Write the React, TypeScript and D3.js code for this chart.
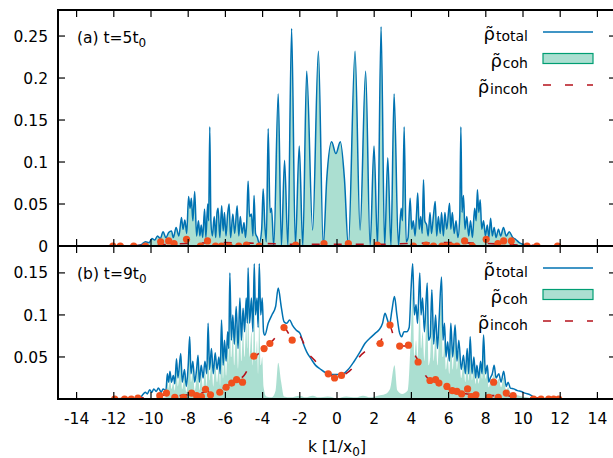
import React, { useEffect, useRef } from 'react';
import * as d3 from 'd3';

type Pt = [number, number];

// tick values
const xTicks = [-14, -12, -10, -8, -6, -4, -2, 0, 2, 4, 6, 8, 10, 12, 14];
const yTicksA = [0, 0.05, 0.1, 0.15, 0.2, 0.25];
const yTicksB = [0, 0.05, 0.1, 0.15];
const yLabelsB = [0.05, 0.1, 0.15];

// (a) t = 5 t0 : total density (k, rho)
const totalA: Pt[] = [
  [-10.8, 0], [-10.5, 0.002], [-10.3, 0.005], [-10.1, 0.004], [-9.95, 0.009], [-9.8, 0.007],
  [-9.65, 0.012], [-9.5, 0.009], [-9.35, 0.017], [-9.2, 0.01], [-9.05, 0.016], [-8.9, 0.018],
  [-8.8, 0.01], [-8.65, 0.022], [-8.5, 0.012], [-8.36, 0.034], [-8.28, 0.02], [-8.18, 0.031],
  [-8.08, 0.015], [-7.98, 0.059], [-7.9, 0.045], [-7.83, 0.057], [-7.75, 0.03], [-7.65, 0.065],
  [-7.55, 0.012], [-7.45, 0.03], [-7.37, 0.012], [-7.3, 0.025], [-7.22, 0.01], [-7.12, 0.044],
  [-7.05, 0.01], [-6.95, 0.05], [-6.9, 0.03], [-6.84, 0.142], [-6.78, 0.03], [-6.7, 0.012],
  [-6.6, 0.035], [-6.52, 0.01], [-6.45, 0.04], [-6.39, 0.045], [-6.3, 0.01], [-6.2, 0.048],
  [-6.12, 0.018], [-6.05, 0.04], [-5.97, 0.012], [-5.88, 0.038], [-5.8, 0.05], [-5.72, 0.01],
  [-5.6, 0.038], [-5.5, 0.015], [-5.37, 0.048], [-5.28, 0.012], [-5.2, 0.035], [-5.1, 0.015],
  [-5.0, 0.028], [-4.92, 0.01], [-4.85, 0.03], [-4.78, 0.077], [-4.7, 0.035], [-4.6, 0.038],
  [-4.52, 0.012], [-4.46, 0.06], [-4.38, 0.015], [-4.28, 0.01], [-4.18, 0.003], [-4.05, 0.02],
  [-3.97, 0.068], [-3.88, 0.025], [-3.8, 0.005], [-3.7, 0.14], [-3.6, 0.04], [-3.52, 0.045],
  [-3.4, 0], [-3.16, 0.181], [-2.99, 0], [-2.82, 0.102], [-2.64, 0], [-2.44, 0.259],
  [-2.24, 0], [-2.03, 0.119], [-1.84, 0], [-1.63, 0.208], [-1.31, 0.019], [-1.0, 0.232],
  [-0.74, 0], [-0.55, 0.08], [-0.29, 0.124], [-0.06, 0.11], [0.18, 0.124], [0.4, 0.08],
  [0.61, 0], [0.97, 0.232], [1.24, 0.019], [1.54, 0.208], [1.78, 0], [1.99, 0.119],
  [2.18, 0], [2.37, 0.261], [2.56, 0], [2.73, 0.105], [2.9, 0], [3.07, 0.181], [3.3, 0],
  [3.45, 0.045], [3.52, 0.03], [3.61, 0.142], [3.72, 0.005], [3.82, 0.01], [3.93, 0.057],
  [4.02, 0.02], [4.1, 0.03], [4.2, 0.012], [4.28, 0.04], [4.34, 0.063], [4.42, 0.02],
  [4.5, 0.035], [4.58, 0.015], [4.65, 0.079], [4.72, 0.03], [4.82, 0.025], [4.9, 0.012],
  [5.0, 0.04], [5.08, 0.015], [5.18, 0.035], [5.28, 0.053], [5.36, 0.012], [5.45, 0.035],
  [5.55, 0.015], [5.62, 0.04], [5.72, 0.012], [5.8, 0.04], [5.9, 0.02], [6.05, 0.051],
  [6.12, 0.02], [6.2, 0.04], [6.3, 0.015], [6.4, 0.03], [6.5, 0.01], [6.6, 0.035],
  [6.66, 0.142], [6.72, 0.04], [6.8, 0.06], [6.88, 0.02], [6.98, 0.035], [7.08, 0.012],
  [7.18, 0.03], [7.28, 0.01], [7.4, 0.045], [7.48, 0.03], [7.55, 0.067], [7.62, 0.04],
  [7.7, 0.055], [7.78, 0.02], [7.88, 0.03], [7.98, 0.012], [8.08, 0.025], [8.16, 0.01],
  [8.26, 0.033], [8.35, 0.012], [8.45, 0.022], [8.55, 0.01], [8.68, 0.02], [8.8, 0.012],
  [8.95, 0.022], [9.1, 0.012], [9.26, 0.017], [9.45, 0.01], [9.6, 0.008], [9.8, 0.004],
  [10.0, 0.002], [10.3, 0],
];
// coherent part is indistinguishable from the total at t=5t0
const cohA: Pt[] = totalA;
const incohA: Pt[] = [
  [-12, 0], [-10, 0.001], [-8, 0.003], [-6, 0.004], [-4, 0.003], [-2, 0.002], [0, 0.002],
  [2, 0.002], [4, 0.003], [6, 0.004], [8, 0.003], [10, 0.001], [12, 0],
];
const dotsAK = [
  -12.05, -11.65, -10.93, -10.3, -9.48, -9.05, -8.76, -8.09, -7.34, -6.96, -6.53, -6.21, -5.8,
  -5.28, -4.87, -4.18, -2.22, -0.7, 0.61, 2.17, 4.11, 4.79, 5.19, 5.64, 5.91, 6.14, 6.45, 6.86,
  7.27, 8.02, 8.65, 8.96, 9.37, 10.22, 10.75, 11.86,
];
const dotsAV = [
  0, 0, 0, 0, 0.005, 0.006, 0.003, 0.008, 0, 0.006, 0, 0, 0, 0, 0.001, 0, 0.001, 0.003, 0.003,
  0.001, 0, 0.001, 0, 0, 0, 0, 0, 0.006, 0, 0.008, 0.003, 0.006, 0.006, 0, 0, 0,
];

// (b) t = 9 t0
const totalB: Pt[] = [
  [-10.6, 0], [-10.45, 0.005], [-10.3, 0.008], [-10.2, 0.006], [-10.07, 0.011], [-9.95, 0.008],
  [-9.85, 0.012], [-9.72, 0.009], [-9.6, 0.013], [-9.45, 0.008], [-9.35, 0.012], [-9.2, 0.01],
  [-9.12, 0.03], [-9.05, 0.02], [-8.98, 0.033], [-8.9, 0.02], [-8.8, 0.028], [-8.72, 0.018],
  [-8.63, 0.048], [-8.55, 0.025], [-8.4, 0.054], [-8.32, 0.02], [-8.2, 0.035], [-8.1, 0.015],
  [-8.0, 0.04], [-7.92, 0.074], [-7.85, 0.03], [-7.75, 0.045], [-7.65, 0.02], [-7.55, 0.035],
  [-7.47, 0.052], [-7.4, 0.02], [-7.3, 0.04], [-7.2, 0.025], [-7.1, 0.045], [-7.0, 0.03],
  [-6.93, 0.09], [-6.85, 0.035], [-6.75, 0.06], [-6.65, 0.03], [-6.55, 0.055], [-6.45, 0.035],
  [-6.35, 0.05], [-6.28, 0.03], [-6.21, 0.094], [-6.12, 0.04], [-6.05, 0.07], [-5.96, 0.045],
  [-5.88, 0.08], [-5.82, 0.06], [-5.76, 0.15], [-5.68, 0.07], [-5.6, 0.1], [-5.52, 0.065],
  [-5.42, 0.11], [-5.32, 0.06], [-5.22, 0.12], [-5.14, 0.07], [-5.05, 0.108], [-4.97, 0.08],
  [-4.88, 0.12], [-4.82, 0.09], [-4.78, 0.156], [-4.7, 0.09], [-4.6, 0.12], [-4.52, 0.08],
  [-4.45, 0.161], [-4.38, 0.1], [-4.3, 0.12], [-4.24, 0.085], [-4.18, 0.161], [-4.1, 0.1],
  [-4.02, 0.12], [-3.95, 0.08], [-3.88, 0.076], [-3.7, 0.09], [-3.5, 0.1], [-3.3, 0.11],
  [-3.16, 0.132], [-3.0, 0.11], [-2.85, 0.092], [-2.7, 0.09], [-2.55, 0.094], [-2.4, 0.088],
  [-2.2, 0.082], [-1.99, 0.078], [-1.8, 0.065], [-1.63, 0.056], [-1.4, 0.048], [-1.15, 0.04],
  [-0.92, 0.036], [-0.6, 0.031], [-0.2, 0.029], [0.1, 0.029], [0.34, 0.03], [0.6, 0.035],
  [0.9, 0.044], [1.24, 0.056], [1.5, 0.066], [1.75, 0.072], [2.05, 0.078], [2.25, 0.082],
  [2.45, 0.09], [2.58, 0.102], [2.7, 0.095], [2.82, 0.088], [2.95, 0.105], [3.09, 0.122],
  [3.22, 0.1], [3.35, 0.08], [3.48, 0.074], [3.6, 0.08], [3.75, 0.08], [3.88, 0.085],
  [3.98, 0.13], [4.07, 0.161], [4.16, 0.1], [4.25, 0.112], [4.33, 0.09], [4.45, 0.15],
  [4.52, 0.1], [4.6, 0.12], [4.7, 0.08], [4.85, 0.138], [4.92, 0.07], [5.01, 0.074],
  [5.1, 0.13], [5.2, 0.065], [5.3, 0.1], [5.4, 0.06], [5.48, 0.09], [5.62, 0.145], [5.7, 0.07],
  [5.78, 0.09], [5.86, 0.05], [5.95, 0.068], [6.04, 0.045], [6.12, 0.09], [6.22, 0.05],
  [6.35, 0.088], [6.45, 0.045], [6.55, 0.07], [6.68, 0.035], [6.8, 0.052], [6.9, 0.03],
  [7.0, 0.06], [7.08, 0.03], [7.16, 0.074], [7.26, 0.03], [7.36, 0.05], [7.45, 0.025],
  [7.52, 0.04], [7.62, 0.025], [7.72, 0.045], [7.8, 0.03], [7.88, 0.076], [7.98, 0.03],
  [8.08, 0.04], [8.16, 0.02], [8.24, 0.025], [8.35, 0.03], [8.45, 0.04], [8.55, 0.025],
  [8.7, 0.03], [8.82, 0.02], [8.96, 0.033], [9.1, 0.015], [9.2, 0.02], [9.32, 0.013],
  [9.5, 0.012], [9.7, 0.01], [9.9, 0.009], [10.1, 0.007], [10.39, 0.005], [10.6, 0.002],
  [10.8, 0],
];
const cohB: Pt[] = [
  [-10.5, 0], [-9.2, 0.002], [-9.12, 0.025], [-9.05, 0.012], [-8.98, 0.028], [-8.9, 0.012],
  [-8.8, 0.02], [-8.72, 0.01], [-8.63, 0.04], [-8.55, 0.015], [-8.4, 0.048], [-8.32, 0.012],
  [-8.2, 0.028], [-8.1, 0.008], [-8.0, 0.032], [-7.92, 0.066], [-7.85, 0.02], [-7.75, 0.035],
  [-7.65, 0.01], [-7.55, 0.027], [-7.47, 0.045], [-7.4, 0.01], [-7.3, 0.03], [-7.2, 0.012],
  [-7.1, 0.034], [-7.0, 0.015], [-6.93, 0.078], [-6.85, 0.022], [-6.75, 0.048], [-6.65, 0.015],
  [-6.55, 0.043], [-6.45, 0.02], [-6.35, 0.038], [-6.28, 0.015], [-6.21, 0.08], [-6.12, 0.024],
  [-6.05, 0.055], [-5.96, 0.028], [-5.88, 0.064], [-5.82, 0.04], [-5.76, 0.13], [-5.68, 0.05],
  [-5.6, 0.08], [-5.52, 0.04], [-5.42, 0.088], [-5.32, 0.036], [-5.22, 0.097], [-5.14, 0.045],
  [-5.05, 0.085], [-4.97, 0.05], [-4.88, 0.09], [-4.82, 0.06], [-4.78, 0.12], [-4.7, 0.05],
  [-4.6, 0.08], [-4.52, 0.04], [-4.45, 0.11], [-4.38, 0.045], [-4.3, 0.07], [-4.24, 0.03],
  [-4.18, 0.1], [-4.1, 0.04], [-4.02, 0.05], [-3.95, 0.015], [-3.8, 0.003], [-3.5, 0.002],
  [-3.3, 0.01], [-3.16, 0.043], [-3.0, 0.02], [-2.85, 0.003], [-2.5, 0.002], [-2.0, 0.004],
  [-1.7, 0.002], [-1.3, 0.004], [-1, 0.002], [-0.5, 0.003], [0, 0.001], [0.5, 0.003],
  [1, 0.002], [1.4, 0.004], [1.8, 0.002], [2.2, 0.004], [2.6, 0.006], [2.85, 0.012],
  [3.09, 0.04], [3.25, 0.01], [3.5, 0.006], [3.8, 0.01], [3.98, 0.08], [4.07, 0.13],
  [4.16, 0.05], [4.25, 0.07], [4.33, 0.05], [4.45, 0.11], [4.52, 0.06], [4.6, 0.08],
  [4.7, 0.045], [4.85, 0.11], [4.92, 0.04], [5.01, 0.05], [5.1, 0.1], [5.2, 0.045],
  [5.3, 0.075], [5.4, 0.04], [5.48, 0.07], [5.62, 0.125], [5.7, 0.05], [5.78, 0.07],
  [5.86, 0.035], [5.95, 0.05], [6.04, 0.03], [6.12, 0.075], [6.22, 0.035], [6.35, 0.075],
  [6.45, 0.035], [6.55, 0.058], [6.68, 0.025], [6.8, 0.044], [6.9, 0.02], [7.0, 0.05],
  [7.08, 0.022], [7.16, 0.065], [7.26, 0.022], [7.36, 0.042], [7.45, 0.018], [7.52, 0.033],
  [7.62, 0.018], [7.72, 0.038], [7.8, 0.024], [7.88, 0.07], [7.98, 0.024], [8.08, 0.034],
  [8.16, 0.014], [8.24, 0.02], [8.35, 0.024], [8.45, 0.03], [8.55, 0.018], [8.7, 0.024],
  [8.82, 0.014], [8.96, 0.026], [9.1, 0.01], [9.2, 0.014], [9.32, 0.008], [9.5, 0.006],
  [9.8, 0.004], [10.2, 0.002], [10.6, 0],
];
const incohB: Pt[] = [
  [-12, 0], [-11, 0.001], [-10, 0.002], [-9.5, 0.004], [-9, 0.005], [-8.5, 0.004], [-8, 0.005],
  [-7.5, 0.006], [-7, 0.009], [-6.5, 0.01], [-6, 0.014], [-5.5, 0.021], [-5, 0.028],
  [-4.5, 0.048], [-4, 0.058], [-3.6, 0.066], [-3.2, 0.076], [-2.85, 0.085], [-2.6, 0.078],
  [-2.4, 0.072], [-2, 0.074], [-1.6, 0.056], [-1.2, 0.046], [-0.8, 0.036], [-0.4, 0.029],
  [0, 0.026], [0.4, 0.029], [0.8, 0.036], [1.2, 0.05], [1.6, 0.058], [2.0, 0.064],
  [2.32, 0.068], [2.6, 0.082], [2.85, 0.086], [3.1, 0.07], [3.4, 0.063], [3.84, 0.063],
  [4.1, 0.055], [4.38, 0.045], [4.7, 0.03], [5.0, 0.022], [5.5, 0.018], [6, 0.013],
  [6.5, 0.008], [7, 0.006], [7.5, 0.005], [8, 0.004], [8.5, 0.004], [9, 0.004], [9.5, 0.003],
  [10, 0.002], [11, 0.001], [12, 0],
];
const dotsBK = [
  -11.95, -11.42, -11.06, -10.7, -9.53, -9.17, -8.72, -8.25, -7.82, -7.55, -7.29, -7.07, -6.8,
  -6.3, -5.96, -5.66, -5.4, -5.08, -4.47, -3.92, -3.61, -2.85, -2.41, -0.47, -0.13, 0.24, 2.32,
  2.85, 3.37, 3.84, 4.36, 5.0, 5.3, 5.48, 5.91, 6.2, 6.45, 6.7, 7.02, 7.22, 7.47, 8.17, 8.42,
  8.67, 9.1, 9.47, 10.57, 10.97, 11.38, 11.65, 11.92,
];
const dotsBV = [
  0, 0, 0, 0.001, 0.004, 0.007, 0.002, 0.002, 0.007, 0.004, 0.003, 0.0115, 0.005, 0.008, 0.014,
  0.019, 0.023, 0.02, 0.051, 0.06, 0.066, 0.085, 0.07, 0.03, 0.025, 0.028, 0.066, 0.088, 0.063,
  0.064, 0.044, 0.022, 0.023, 0.019, 0.015, 0.01, 0.009, 0.006, 0.012, 0.003, 0.005, 0.002,
  0.02, 0.002, 0.007, 0.004, 0, 0, 0, 0, 0,
];

const panels = [
  { id: 'a', top: 10, bottom: 246, ymax: 0.281, total: totalA, coh: cohA, incoh: incohA,
    dk: dotsAK, dv: dotsAV, ticks: yTicksA, labels: yTicksA, title: '(a) t=5t' },
  { id: 'b', top: 246, bottom: 399, ymax: 0.182, total: totalB, coh: cohB, incoh: incohB,
    dk: dotsBK, dv: dotsBV, ticks: yTicksB, labels: yLabelsB, title: '(b) t=9t' },
];

const BLUE = '#0072b2';
const GREEN = '#009e73';
const RED = '#b5121b';
const ORANGE = '#f0501e';
const FONT = 'DejaVu Sans, sans-serif';

const App = () => {
  const ref = useRef<SVGSVGElement>(null);

  useEffect(() => {
    const svg = d3.select(ref.current);
    svg.selectAll('*').remove();

    const left = 58;
    const right = 616;
    const x = d3.scaleLinear().domain([-15, 15]).range([left, right]);

    panels.forEach(p => {
      const y = d3.scaleLinear().domain([0, p.ymax]).range([p.bottom, p.top]);
      const g = svg.append('g');

      svg.append('clipPath').attr('id', `clip-${p.id}`)
        .append('rect').attr('x', left).attr('y', p.top)
        .attr('width', right - left).attr('height', p.bottom - p.top);

      const plot = g.append('g').attr('clip-path', `url(#clip-${p.id})`);

      const area = d3.area<Pt>().x(d => x(d[0])).y0(y(0)).y1(d => y(d[1]))
        .curve(d3.curveMonotoneX);
      const line = d3.line<Pt>().x(d => x(d[0])).y(d => y(d[1])).curve(d3.curveMonotoneX);

      plot.append('path').datum(p.coh).attr('d', area)
        .attr('fill', GREEN).attr('fill-opacity', 0.33).attr('stroke', 'none');
      plot.append('path').datum(p.total).attr('d', line)
        .attr('fill', 'none').attr('stroke', BLUE).attr('stroke-width', 1.5);
      plot.append('path').datum(p.incoh).attr('d', line)
        .attr('fill', 'none').attr('stroke', RED).attr('stroke-width', 1.6)
        .attr('stroke-dasharray', '8,14');
      plot.selectAll('circle.dot').data(p.dk).enter().append('circle')
        .attr('cx', d => x(d)).attr('cy', (d, i) => y(p.dv[i]))
        .attr('r', 3.6).attr('fill', ORANGE);

      // frame
      g.append('rect').attr('x', left).attr('y', p.top)
        .attr('width', right - left).attr('height', p.bottom - p.top)
        .attr('fill', 'none').attr('stroke', '#000').attr('stroke-width', 2);

      // y ticks, left and mirrored right
      p.ticks.forEach(t => {
        g.append('line').attr('x1', left).attr('x2', left + 7)
          .attr('y1', y(t)).attr('y2', y(t)).attr('stroke', '#000').attr('stroke-width', 1.2);
        g.append('line').attr('x1', right).attr('x2', right - 7)
          .attr('y1', y(t)).attr('y2', y(t)).attr('stroke', '#000').attr('stroke-width', 1.2);
      });
      p.labels.forEach(t => {
        g.append('text').attr('x', 48).attr('y', y(t)).attr('dy', '0.36em')
          .attr('text-anchor', 'end').attr('font-family', FONT).attr('font-size', 15.5)
          .text(String(t));
      });

      // x ticks top and bottom
      xTicks.forEach(t => {
        g.append('line').attr('x1', x(t)).attr('x2', x(t))
          .attr('y1', p.bottom).attr('y2', p.bottom - 7).attr('stroke', '#000').attr('stroke-width', 1.2);
        g.append('line').attr('x1', x(t)).attr('x2', x(t))
          .attr('y1', p.top).attr('y2', p.top + 7).attr('stroke', '#000').attr('stroke-width', 1.2);
      });

      // panel title
      const tt = g.append('text').attr('x', 77).attr('y', p.top + 33)
        .attr('font-family', FONT).attr('font-size', 15.5);
      tt.append('tspan').text(p.title);
      tt.append('tspan').attr('font-size', 12).attr('dy', 4).text('0');

      // legend
      const legend = [
        { sub: 'total', kind: 'line' },
        { sub: 'coh', kind: 'box' },
        { sub: 'incoh', kind: 'dash' },
      ];
      legend.forEach((l, i) => {
        const cy = p.top + 22 + i * 26.5;
        const lt = g.append('text').attr('x', 528).attr('y', cy + 8)
          .attr('text-anchor', 'end').attr('font-family', FONT);
        lt.append('tspan').attr('font-size', 18).text('\u03c1\u0303');
        lt.append('tspan').attr('font-size', 14).attr('dx', 1).attr('dy', 1).text(l.sub);
        if (l.kind === 'line') {
          g.append('line').attr('x1', 543).attr('x2', 593).attr('y1', cy).attr('y2', cy)
            .attr('stroke', BLUE).attr('stroke-width', 1.5);
        } else if (l.kind === 'box') {
          g.append('rect').attr('x', 543).attr('y', cy - 5).attr('width', 50).attr('height', 10)
            .attr('fill', GREEN).attr('fill-opacity', 0.33).attr('stroke', GREEN).attr('stroke-width', 1.2);
        } else {
          g.append('line').attr('x1', 543).attr('x2', 593).attr('y1', cy).attr('y2', cy)
            .attr('stroke', RED).attr('stroke-width', 1.6).attr('stroke-dasharray', '8,14');
        }
      });
    });

    // x tick labels under the lower panel
    xTicks.forEach(t => {
      svg.append('text').attr('x', x(t)).attr('y', 424).attr('text-anchor', 'middle')
        .attr('font-family', FONT).attr('font-size', 15.5).text(String(t));
    });

    const xt = svg.append('text').attr('x', 337).attr('y', 452).attr('text-anchor', 'middle')
      .attr('font-family', FONT).attr('font-size', 15.5);
    xt.append('tspan').text('k [1/x');
    xt.append('tspan').attr('font-size', 12).attr('dy', 4).text('0');
    xt.append('tspan').attr('dy', -4).text(']');
  }, []);

  return (
    <svg
      ref={ref}
      width={613}
      height={458}
      style={{ position: 'absolute', left: 0, top: 0, background: '#fff', overflow: 'hidden' }}
    />
  );
};

export default App;
